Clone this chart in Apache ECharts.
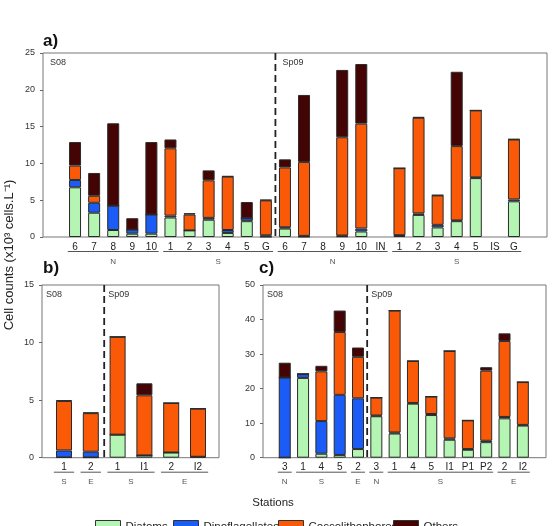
<!DOCTYPE html>
<html>
<head>
<meta charset="utf-8">
<script src="https://cdn.jsdelivr.net/npm/echarts@6/dist/echarts.min.js"></script>
<style>
html,body{margin:0;padding:0;background:#fff;}
#box{width:554px;height:526px;}
</style>
</head>
<body>
<div id="box"></div>
<script>
// panel a) stations (S08 then Sp09)
var aCats = ['S08-6','S08-7','S08-8','S08-9','S08-10','S08-1','S08-2','S08-3','S08-4','S08-5','S08-G',
             'Sp09-6','Sp09-7','Sp09-8','Sp09-9','Sp09-10','Sp09-IN','Sp09-1','Sp09-2','Sp09-3','Sp09-4','Sp09-5','Sp09-IS','Sp09-G'];
var aLabels = ['6','7','8','9','10','1','2','3','4','5','G','6','7','8','9','10','IN','1','2','3','4','5','IS','G'];
var aDiatoms = [6.75, 3.3, 0.95, 0.45, 0.45, 2.65, 0.9, 2.35, 0.55, 2.15, 0.05, 1.15, 0.05, null, 0.1, 0.75, null, 0.15, 3.0, 1.3, 2.15, 8.0, null, 4.85];
var aDino    = [1.0, 1.35, 3.3, 0.55, 2.6, 0.25, 0, 0.25, 0.4, 0.4, 0.18, 0.17, 0.1, null, 0.1, 0.4, null, 0.1, 0.2, 0.35, 0.1, 0.1, null, 0.25];
var aCocco   = [1.95, 0.95, 0, 0, 0, 9.15, 2.15, 5.1, 7.25, 0, 4.75, 8.13, 10.05, null, 13.35, 14.25, null, 9.1, 13.0, 4.0, 10.1, 9.1, null, 8.15];
var aOthers  = [3.2, 3.1, 11.2, 1.55, 9.85, 1.2, 0.18, 1.35, 0.07, 2.2, 0.07, 1.1, 9.1, null, 9.15, 8.1, null, 0, 0.1, 0.05, 10.1, 0, null, 0.05];
var aGroups = [['N',0,4],['S',5,10],['N',11,16],['S',17,23]];

// panel b)
var bCats = ['S08-1','S08-2','Sp09-1','Sp09-I1','Sp09-2','Sp09-I2'];
var bLabels = ['1','2','1','I1','2','I2'];
var bDiatoms = [0.03, 0.02, 2.0, 0.2, 0.45, 0.08];
var bDino    = [0.6, 0.5, 0, 0, 0, 0];
var bCocco   = [4.3, 3.35, 8.5, 5.22, 4.3, 4.18];
var bOthers  = [0.05, 0.05, 0, 1.04, 0, 0];
var bGroups = [['S',0,0],['E',1,1],['S',2,3],['E',4,5]];

// panel c)
var cCats = ['S08-3','S08-1','S08-4','S08-5','S08-2','Sp09-3','Sp09-1','Sp09-4','Sp09-5','Sp09-I1','Sp09-P1','Sp09-P2','Sp09-2','Sp09-I2'];
var cLabels = ['3','1','4','5','2','3','1','4','5','I1','P1','P2','2','I2'];
var cDiatoms = [0, 23.1, 1.15, 0.8, 2.5, 12.0, 7.0, 15.65, 12.35, 5.2, 2.3, 4.5, 11.4, 9.3];
var cDino    = [23.2, 1.1, 9.45, 17.4, 14.7, 0.2, 0.3, 0.2, 0.3, 0.4, 0.2, 0.4, 0.4, 0.2];
var cCocco   = [0, 0, 14.4, 18.2, 12.0, 5.2, 35.3, 12.15, 5.05, 25.3, 8.3, 20.3, 22.0, 12.4];
var cOthers  = [4.3, 0.05, 1.6, 6.2, 2.7, 0, 0, 0, 0, 0, 0, 1.0, 2.2, 0];
var cGroups = [['N',0,0],['S',1,3],['E',4,4],['N',5,5],['S',6,11],['E',12,13]];

var seriesNames = ['Diatoms','Dinoflagellates','Coccolithophores','Others'];
var colors = ['#b4f5b4','#1a5cf5','#fa5a08','#440404'];

var panels = [
	{tag:'a)', cats:aCats, labels:aLabels, vals:[aDiatoms,aDino,aCocco,aOthers], groups:aGroups, split:10, yMax:25, yStep:5,
	 frame:{left:43, top:53, width:504, height:184}, padL:22.5, padR:23.5, barWidth:12, tagPos:[43,41], textOff:7},
	{tag:'b)', cats:bCats, labels:bLabels, vals:[bDiatoms,bDino,bCocco,bOthers], groups:bGroups, split:1, yMax:15, yStep:5,
	 frame:{left:42, top:285, width:177, height:172.7}, padL:8.6, padR:7.6, barWidth:16, tagPos:[43,268], textOff:4},
	{tag:'c)', cats:cCats, labels:cLabels, vals:[cDiatoms,cDino,cCocco,cOthers], groups:cGroups, split:4, yMax:50, yStep:10,
	 frame:{left:263, top:285, width:283, height:172.7}, padL:12.6, padR:14, barWidth:12, tagPos:[259,268], textOff:4}
];

var font = '"Liberation Sans", Arial, sans-serif';
var grid = [], xAxis = [], yAxis = [], series = [];

panels.forEach(function(p, i){
	var f = p.frame;
	grid.push({left:f.left + p.padL, top:f.top, width:f.width - p.padL - p.padR, height:f.height, show:false});
	xAxis.push({
		gridIndex:i, type:'category', data:p.cats,
		axisLine:{show:false}, axisTick:{show:false},
		axisLabel:{interval:0, margin:5, fontSize:10, color:'#222', fontFamily:font,
			formatter:(function(lab){ return function(v, idx){ return lab[idx]; }; })(p.labels)}
	});
	yAxis.push({
		gridIndex:i, type:'value', min:0, max:p.yMax, interval:p.yStep, offset:p.padL,
		axisLine:{show:false},
		axisTick:{show:true, length:3, lineStyle:{color:'#666'}},
		axisLabel:{margin:8, fontSize:9, color:'#333', fontFamily:font},
		splitLine:{show:false}
	});
	for (var k = 0; k < 4; k++) {
		series.push({
			name:seriesNames[k], type:'bar', stack:'p' + i,
			xAxisIndex:i, yAxisIndex:i, barWidth:p.barWidth,
			itemStyle:{color:colors[k], borderColor:'#2a2a2a', borderWidth:1},
			data:p.vals[k]
		});
	}
});
// outer frames of the three panels
panels.forEach(function(p){
	var f = p.frame;
	grid.push({left:f.left, top:f.top, width:f.width, height:f.height, show:true,
		backgroundColor:'transparent', borderColor:'#777', borderWidth:1});
});

// one legend per item so each swatch sits where the original has it
var legendLeft = [95, 173, 278, 393];
var legend = seriesNames.map(function(n, k){
	return {
		data:[n], left:legendLeft[k], top:520, padding:0, itemWidth:25, itemHeight:13,
		icon:'rect',
		itemStyle:{borderColor:'#333', borderWidth:1},
		textStyle:{fontSize:11.5, color:'#222', fontFamily:font}
	};
});

var mychar = echarts.init(document.getElementById('box'));
mychar.setOption({
	animation:false,
	backgroundColor:'#fff',
	legend:legend,
	grid:grid, xAxis:xAxis, yAxis:yAxis, series:series
});

// annotations: separators, period labels, station groups
var g = [];
panels.forEach(function(p, i){
	var f = p.frame;
	var px = function(idx){ return mychar.convertToPixel({xAxisIndex:i}, idx); };
	var step = px(1) - px(0);
	var yTop = mychar.convertToPixel({yAxisIndex:i}, p.yMax);
	var yBot = mychar.convertToPixel({yAxisIndex:i}, 0);
	var sx = (px(p.split) + px(p.split + 1)) / 2;
	g.push({type:'line', shape:{x1:sx, y1:yTop, x2:sx, y2:yBot},
		style:{stroke:'#222', lineWidth:1.8, lineDash:[7,4]}, silent:true});
	g.push({type:'text', style:{text:'S08', x:f.left + p.textOff, y:yTop + 10, fill:'#333', fontSize:9, fontFamily:font, textVerticalAlign:'middle'}});
	g.push({type:'text', style:{text:'Sp09', x:sx + p.textOff, y:yTop + 10, fill:'#333', fontSize:9, fontFamily:font, textVerticalAlign:'middle'}});
	g.push({type:'text', style:{text:p.tag, x:p.tagPos[0], y:p.tagPos[1], fill:'#111', fontSize:17, fontWeight:'bold', fontFamily:font, textVerticalAlign:'middle'}});
	p.groups.forEach(function(gr){
		var x1 = px(gr[1]) - step * 0.38, x2 = px(gr[2]) + step * 0.38;
		g.push({type:'line', shape:{x1:x1, y1:yBot + 14.5, x2:x2, y2:yBot + 14.5},
			style:{stroke:'#555', lineWidth:1}, silent:true});
		g.push({type:'text', style:{text:gr[0], x:(x1 + x2) / 2, y:yBot + 24.5, fill:'#555', fontSize:8, fontFamily:font,
			textAlign:'center', textVerticalAlign:'middle'}});
	});
});
g.push({type:'text', rotation:Math.PI / 2, x:9, y:255,
	style:{text:'Cell counts (x10\u00b3 cells.L\u207b\u00b9)', fill:'#222', fontSize:13, fontFamily:font,
		textAlign:'center', textVerticalAlign:'middle'}});
g.push({type:'text', style:{text:'Stations', x:273, y:503, fill:'#222', fontSize:11.5, fontFamily:font,
	textAlign:'center', textVerticalAlign:'middle'}});
mychar.setOption({graphic:g});
</script>
</body>
</html>
